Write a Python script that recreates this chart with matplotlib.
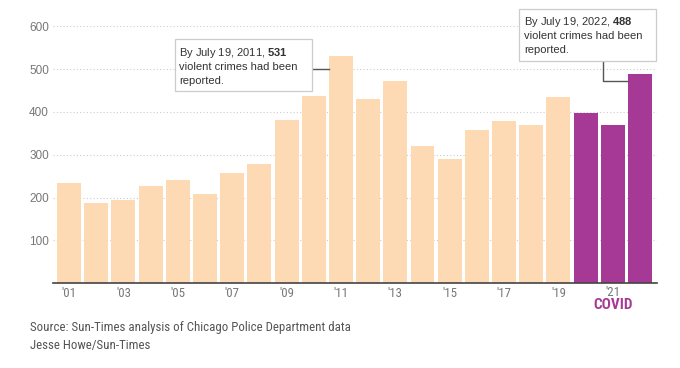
import matplotlib
matplotlib.use("Agg")
from matplotlib import pyplot as plt
from matplotlib import font_manager
from matplotlib.patches import Rectangle
import numpy as np

years = list(range(2001, 2023))
crimes = [233, 187, 194, 227, 241, 209, 257, 279, 380, 437, 531, 430,
          472, 321, 290, 357, 379, 369, 435, 398, 370, 488]
covid_years = [2020, 2021, 2022]
tick_years = [2001, 2003, 2005, 2007, 2009, 2011, 2013, 2015, 2017, 2019, 2021]
tick_labels = ["'01", "'03", "'05", "'07", "'09", "'11", "'13", "'15", "'17", "'19", "'21"]

PEACH = '#fddab4'
PURPLE = '#a63996'


def pick_font(names):
    for n in names:
        try:
            font_manager.findfont(n, fallback_to_default=False)
            return n
        except ValueError:
            pass
    return 'Liberation Sans'


NARROW = pick_font(['Liberation Sans Narrow', 'Roboto Condensed', 'Open Sans Condensed'])
narrow_scale = 1.0 if NARROW != 'Liberation Sans' else 0.88

plt.rcParams['font.family'] = ['Liberation Sans', 'DejaVu Sans']
plt.rcParams['mathtext.fontset'] = 'custom'
plt.rcParams['mathtext.rm'] = 'Liberation Sans'
plt.rcParams['mathtext.bf'] = 'Liberation Sans:bold'

fig = plt.figure(figsize=(6.8, 3.68), dpi=100)
ax = fig.add_axes([0.078, 0.230, 0.888, 0.699])

x = np.arange(len(years))
colors = [PURPLE if y in covid_years else PEACH for y in years]
ax.bar(x, crimes, width=0.88, color=colors, zorder=2)

ax.set_xlim(-0.59, 21.62)
ax.set_ylim(0, 600)
ax.set_yticks([100, 200, 300, 400, 500, 600])
ax.tick_params(axis='y', length=0, pad=3, labelsize=8.5, labelcolor='#777777')
# the '21 label sits a little higher (above COVID), drawn separately
ax.set_xticks([years.index(y) for y in tick_years[:-1]])
ax.set_xticklabels(tick_labels[:-1], fontfamily=NARROW)
ax.tick_params(axis='x', length=0, pad=2.5, labelsize=9.3 * narrow_scale, labelcolor='#777777')
ax.text(years.index(tick_years[-1]), -0.034, tick_labels[-1], transform=ax.get_xaxis_transform(),
        ha='center', va='center', fontsize=9.3 * narrow_scale, color='#777777', fontfamily=NARROW)
for yv in [100, 200, 300, 400, 500, 600]:
    ax.axhline(yv, color='#cccccc', lw=0.8, ls=(0, (1, 2)), zorder=1)
for s in ['left', 'right', 'top']:
    ax.spines[s].set_visible(False)
ax.spines['bottom'].set_color('#444444')
ax.spines['bottom'].set_linewidth(1.2)
ax.spines['bottom'].set_zorder(3)

# COVID label under '21
ax.text(years.index(2021), -0.1, 'COVID', transform=ax.get_xaxis_transform(),
        ha='center', va='baseline', fontsize=11 * narrow_scale, fontweight='bold',
        color=PURPLE, fontfamily=NARROW)

# annotation 2011
i11 = years.index(2011)
ax.add_patch(Rectangle((3.89, 448.6), 5.05, 121.4, fc='white', ec='#cccccc',
                       lw=0.9, zorder=5, clip_on=False))
for txt, yb in [('By July 19, 2011, $\\mathbf{531}$', 530),
                ('violent crimes had been', 497.6),
                ('reported.', 464.9)]:
    ax.text(4.04, yb, txt, ha='left', va='baseline', fontsize=8,
            color='#333333', zorder=6, clip_on=False)
ax.plot([8.94, i11 - 0.44], [500, 500], color='#555555', lw=1, zorder=4)

# annotation 2022
i22 = years.index(2022)
ax.add_patch(Rectangle((16.55, 519), 5.05, 122, fc='white', ec='#cccccc',
                       lw=0.9, zorder=5, clip_on=False))
for txt, yb in [('By July 19, 2022, $\\mathbf{488}$', 603.3),
                ('violent crimes had been', 570),
                ('reported.', 536.6)]:
    ax.text(16.73, yb, txt, ha='left', va='baseline', fontsize=8,
            color='#333333', zorder=6, clip_on=False)
ax.plot([19.62, 19.62, i22 - 0.44], [519, 472, 472], color='#555555', lw=1,
        zorder=4, clip_on=False)

fig.text(30 / 680, 1 - 328 / 368, 'Source: Sun-Times analysis of Chicago Police Department data',
         ha='left', va='center', fontsize=9.3 * narrow_scale, color='#555555', fontfamily=NARROW)
fig.text(30 / 680, 1 - 346 / 368, 'Jesse Howe/Sun-Times',
         ha='left', va='center', fontsize=9.3 * narrow_scale, color='#555555', fontfamily=NARROW)

fig.savefig('out.png', dpi=100)
